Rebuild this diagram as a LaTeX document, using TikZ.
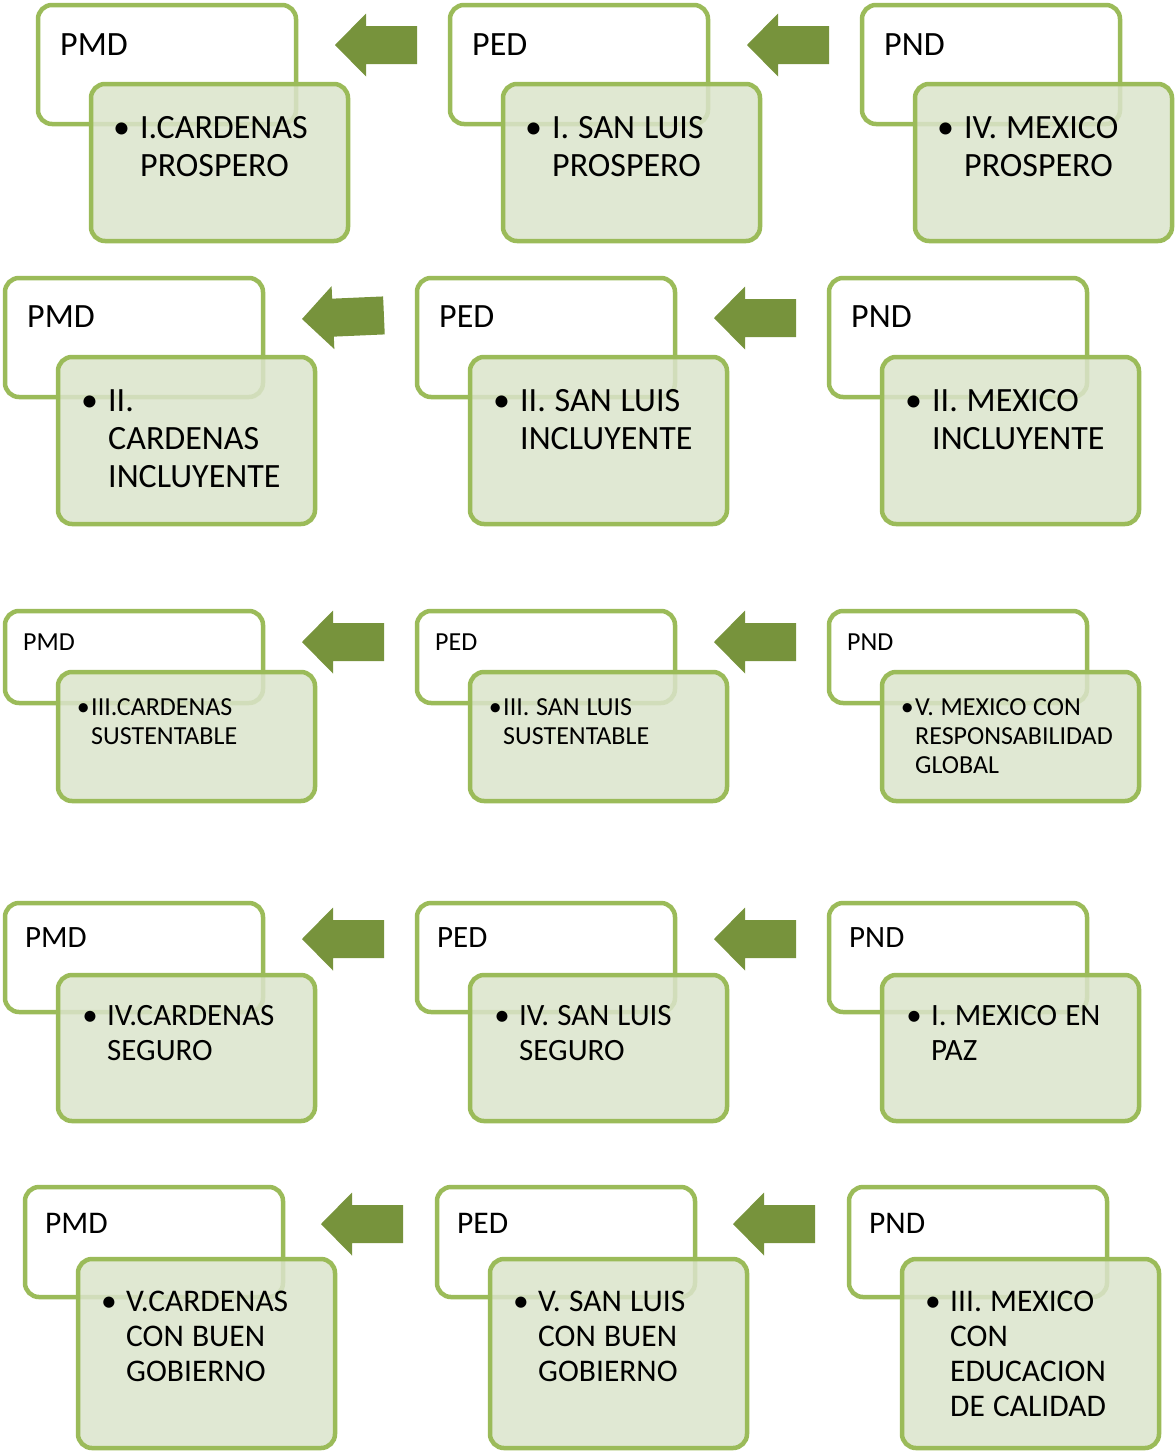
\documentclass[tikz,border=0pt]{standalone}
\usepackage{fontspec}
\setmainfont{Carlito}
\usetikzlibrary{fit}
\definecolor{bordergreen}{HTML}{9BBB59}
\definecolor{arrowgreen}{HTML}{77933C}
\definecolor{frontfill}{RGB}{219,228,203}
\tikzset{
  backbox/.style={draw=bordergreen, line width=4.5pt, rounded corners=14pt, fill=white, inner sep=0pt},
  frontbox/.style={draw=bordergreen, line width=4.5pt, rounded corners=14pt, fill=frontfill, fill opacity=0.85, inner sep=0pt},
  lbl/.style={anchor=base west, inner sep=0pt, font=\rowfont},
  txt/.style={anchor=base west, inner sep=0pt, font=\rowfont, text width=240pt, align=left},
  leftarrow/.pic={\fill[arrowgreen] (0,0) -- (31,-31.5) -- (31,-19) -- (82,-19) -- (82,19) -- (31,19) -- (31,31.5) -- cycle;}
}
\newcommand\planbox[8]{%
  \node[backbox, fit={(#2,#3) (#2+258,#4)}] (#1b) {};
  \node[lbl] (#1l) at (#2+\lblx,#3+\lbly) {#7};
  \node[frontbox, fit={(#2+53,#5) (#2+310,#6)}] (#1f) {};
  \node[txt] (#1t) at (#2+53+\txtx,#5+\txty) {\spaceskip=0.26em\relax\llap{•\kern\bulgap}#8};
}
\begin{document}
\begin{tikzpicture}[x=1pt,y=-1pt]
\useasboundingbox (0,0) rectangle (1175,1451);
% Row 1
\begin{scope}
\def\rowfont{\fontsize{34}{38}\selectfont}\def\lblx{22}\def\lbly{50}\def\txtx{49}\def\txty{54}\def\bulgap{0.3em}
\planbox{a1}{38}{5}{124}{84}{241}{PMD}{I.CARDENAS\\PROSPERO}
\planbox{a2}{450}{5}{124}{84}{241}{PED}{I. SAN LUIS\\PROSPERO}
\planbox{a3}{862}{5}{124}{84}{241}{PND}{IV. MEXICO\\PROSPERO}
\pic at (335,45) {leftarrow};
\pic at (747,45) {leftarrow};
\end{scope}
% Row 2
\begin{scope}
\def\rowfont{\fontsize{34}{38}\selectfont}\def\lblx{22}\def\lbly{49}\def\txtx{50}\def\txty{54}\def\bulgap{0.3em}
\planbox{b1}{5}{278}{397}{357}{524}{PMD}{II.\\CARDENAS\\INCLUYENTE}
\planbox{b2}{417}{278}{397}{357}{524}{PED}{II. SAN LUIS\\INCLUYENTE}
\planbox{b3}{829}{278}{397}{357}{524}{PND}{II. MEXICO\\INCLUYENTE}
\pic[rotate=2.5] at (302,319) {leftarrow};
\pic at (714,318) {leftarrow};
\end{scope}
% Row 3
\begin{scope}
\def\rowfont{\fontsize{26}{29}\selectfont}\def\lblx{18}\def\lbly{39}\def\txtx{33}\def\txty{43}\def\bulgap{0.05em}
\planbox{c1}{5}{611}{703}{672}{801}{PMD}{III.CARDENAS\\SUSTENTABLE}
\planbox{c2}{417}{611}{703}{672}{801}{PED}{III. SAN LUIS\\SUSTENTABLE}
\planbox{c3}{829}{611}{703}{672}{801}{PND}{V. MEXICO CON\\RESPONSABILIDAD\\GLOBAL}
\pic at (302,642) {leftarrow};
\pic at (714,642) {leftarrow};
\end{scope}
% Row 4
\begin{scope}
\def\rowfont{\fontsize{31}{35}\selectfont}\def\lblx{20}\def\lbly{44}\def\txtx{49}\def\txty{50}\def\bulgap{0.3em}
\planbox{d1}{5}{903}{1012}{975}{1121}{PMD}{IV.CARDENAS\\SEGURO}
\planbox{d2}{417}{903}{1012}{975}{1121}{PED}{IV. SAN LUIS\\SEGURO}
\planbox{d3}{829}{903}{1012}{975}{1121}{PND}{I. MEXICO EN\\PAZ}
\pic at (302,939) {leftarrow};
\pic at (714,939) {leftarrow};
\end{scope}
% Row 5
\begin{scope}
\def\rowfont{\fontsize{31.5}{35.3}\selectfont}\def\lblx{20}\def\lbly{46}\def\txtx{48}\def\txty{52}\def\bulgap{0.3em}
\planbox{e1}{25}{1187}{1297}{1259}{1448}{PMD}{V.CARDENAS\\CON BUEN\\GOBIERNO}
\planbox{e2}{437}{1187}{1297}{1259}{1448}{PED}{V. SAN LUIS\\CON BUEN\\GOBIERNO}
\planbox{e3}{849}{1187}{1297}{1259}{1448}{PND}{III. MEXICO\\CON\\EDUCACION\\DE CALIDAD}
\pic at (321,1224) {leftarrow};
\pic at (733,1224) {leftarrow};
\end{scope}
\end{tikzpicture}
\end{document}
